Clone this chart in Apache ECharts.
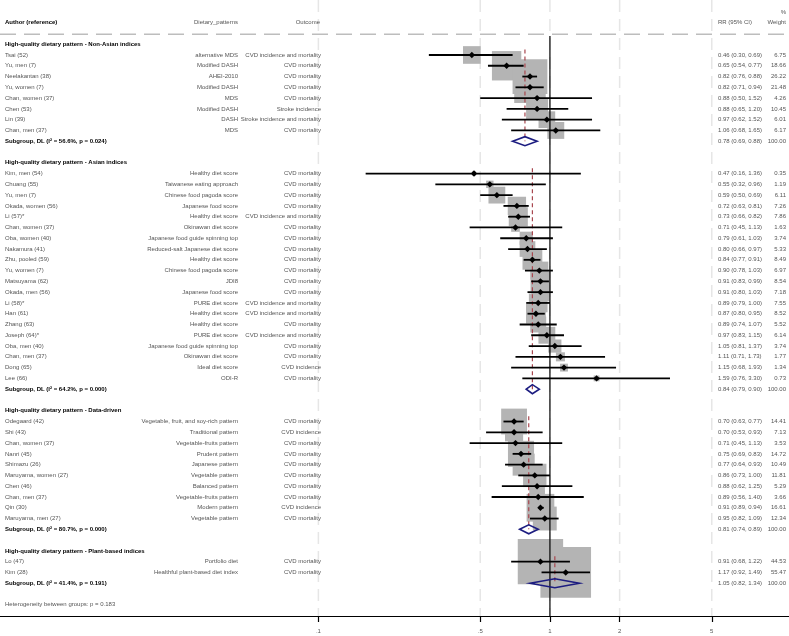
<!DOCTYPE html>
<html>
<head>
<meta charset="utf-8">
<script src="https://cdn.jsdelivr.net/npm/echarts@6/dist/echarts.min.js"></script>
<style>html,body{margin:0;padding:0;background:#fff}#chart{width:789px;height:636px}</style>
</head>
<body>
<div id="chart"></div>
<script>
var groupNames = ['High-quality dietary pattern - Non-Asian indices', 'High-quality dietary pattern - Asian indices',
	'High-quality dietary pattern - Data-driven', 'High-quality dietary pattern - Plant-based indices'];
var groupCounts = [8, 20, 10, 2];

var authors = ['Tsai (52)', 'Yu, men (7)', 'Neelakantan (38)', 'Yu, women (7)', 'Chan, women (37)', 'Chen (53)', 'Lin (39)', 'Chan, men (37)',
	'Kim, men (54)', 'Chuang (55)', 'Yu, men (7)', 'Okada, women (56)', 'Li (57)*', 'Chan, women (37)', 'Oba, women (40)', 'Nakamura (41)',
	'Zhu, pooled (59)', 'Yu, women (7)', 'Matsuyama (62)', 'Okada, men (56)', 'Li (58)*', 'Han (61)', 'Zhang (63)', 'Joseph (64)*',
	'Oba, men (40)', 'Chan, men (37)', 'Dong (65)', 'Lee (66)',
	'Odegaard (42)', 'Shi (43)', 'Chan, women (37)', 'Nanri (45)', 'Shimazu (26)', 'Maruyama, women (27)', 'Chen (46)', 'Chan, men (37)',
	'Qin (30)', 'Maruyama, men (27)',
	'Lo (47)', 'Kim (28)'];
var patterns = ['alternative MDS', 'Modified DASH', 'AHEI-2010', 'Modified DASH', 'MDS', 'Modified DASH', 'DASH', 'MDS',
	'Healthy diet score', 'Taiwanese eating approach', 'Chinese food pagoda score', 'Japanese food score', 'Healthy diet score',
	'Okinawan diet score', 'Japanese food guide spinning top', 'Reduced-salt Japanese diet score', 'Healthy diet score',
	'Chinese food pagoda score', 'JDI8', 'Japanese food score', 'PURE diet score', 'Healthy diet score', 'Healthy diet score',
	'PURE diet score', 'Japanese food guide spinning top', 'Okinawan diet score', 'Ideal diet score', 'ODI-R',
	'Vegetable, fruit, and soy-rich pattern', 'Traditional pattern', 'Vegetable-fruits pattern', 'Prudent pattern', 'Japanese pattern',
	'Vegetable pattern', 'Balanced pattern', 'Vegetable-fruits pattern', 'Modern pattern', 'Vegetable pattern',
	'Portfolio diet', 'Healthful plant-based diet index'];
var outcomes = ['CVD incidence and mortality', 'CVD mortality', 'CVD mortality', 'CVD mortality', 'CVD mortality', 'Stroke incidence',
	'Stroke incidence and mortality', 'CVD mortality',
	'CVD mortality', 'CVD mortality', 'CVD mortality', 'CVD mortality', 'CVD incidence and mortality', 'CVD mortality', 'CVD mortality',
	'CVD mortality', 'CVD mortality', 'CVD mortality', 'CVD mortality', 'CVD mortality', 'CVD incidence and mortality',
	'CVD incidence and mortality', 'CVD mortality', 'CVD incidence and mortality', 'CVD mortality', 'CVD mortality', 'CVD incidence',
	'CVD mortality',
	'CVD mortality', 'CVD incidence', 'CVD mortality', 'CVD mortality', 'CVD mortality', 'CVD mortality', 'CVD mortality',
	'CVD mortality', 'CVD incidence', 'CVD mortality',
	'CVD mortality', 'CVD mortality'];
var rr = [0.46, 0.65, 0.82, 0.82, 0.88, 0.88, 0.97, 1.06,
	0.47, 0.55, 0.59, 0.72, 0.73, 0.71, 0.79, 0.80, 0.84, 0.90, 0.91, 0.91, 0.89, 0.87, 0.89, 0.97, 1.05, 1.11, 1.15, 1.59,
	0.70, 0.70, 0.71, 0.75, 0.77, 0.86, 0.88, 0.89, 0.91, 0.95,
	0.91, 1.17];
var lower = [0.30, 0.54, 0.76, 0.71, 0.50, 0.65, 0.62, 0.68,
	0.16, 0.32, 0.50, 0.63, 0.66, 0.45, 0.61, 0.66, 0.77, 0.78, 0.83, 0.80, 0.79, 0.80, 0.74, 0.83, 0.81, 0.71, 0.68, 0.76,
	0.63, 0.53, 0.45, 0.69, 0.64, 0.73, 0.62, 0.56, 0.89, 0.82,
	0.68, 0.92];
var upper = [0.69, 0.77, 0.88, 0.94, 1.52, 1.20, 1.52, 1.65,
	1.36, 0.96, 0.69, 0.81, 0.82, 1.13, 1.03, 0.97, 0.91, 1.03, 0.99, 1.03, 1.00, 0.95, 1.07, 1.15, 1.37, 1.73, 1.93, 3.30,
	0.77, 0.93, 1.13, 0.83, 0.93, 1.00, 1.25, 1.40, 0.94, 1.09,
	1.22, 1.49];
var weights = [6.75, 18.66, 26.22, 21.48, 4.26, 10.45, 6.01, 6.17,
	0.35, 1.19, 6.11, 7.26, 7.86, 1.63, 3.74, 5.33, 8.49, 6.97, 8.54, 7.18, 7.55, 8.52, 5.52, 6.14, 3.74, 1.77, 1.34, 0.73,
	14.41, 7.13, 3.53, 14.72, 10.49, 11.81, 5.29, 3.66, 16.61, 12.34,
	44.53, 55.47];

var poolRR = [0.78, 0.84, 0.81, 1.05];
var poolLo = [0.69, 0.79, 0.74, 0.82];
var poolHi = [0.88, 0.90, 0.89, 1.34];
var poolI2 = ['56.6%', '64.2%', '80.7%', '41.4%'];
var poolP = ['0.024', '0.000', '0.000', '0.191'];
var hetBetween = '0.183';

var tickValues = [0.1, 0.5, 1, 2, 5];
var tickLabels = ['.1', '.5', '1', '2', '5'];

// layout
var FONT = '"Liberation Sans", Arial, sans-serif';
var FS = 6;
var TXT = '#555';

function ci(a, b, c) {
	return a.toFixed(2) + ' (' + b.toFixed(2) + ', ' + c.toFixed(2) + ')';
}

// build the rows of the table
var rows = [];
var studyData = [], poolData = [], refData = [];
rows.push({ row: -3, kind: 'pct' });
rows.push({ row: -2, kind: 'head' });
var r = 0, k = 0;
groupNames.forEach(function (g, gi) {
	rows.push({ row: r, kind: 'group', text: g });
	var first = r + 1;
	r++;
	for (var j = 0; j < groupCounts[gi]; j++, k++, r++) {
		rows.push({ row: r, kind: 'study', i: k });
		studyData.push([rr[k], r, lower[k], upper[k], weights[k]]);
	}
	rows.push({ row: r, kind: 'pool', g: gi });
	poolData.push([poolRR[gi], r, poolLo[gi], poolHi[gi]]);
	refData.push([poolRR[gi], first, r]);
	r += 2;
});
rows.push({ row: r, kind: 'het' });

function txt(x, y, s, align, bold) {
	return {
		type: 'text', x: x, y: y,
		style: {
			text: s, fill: bold ? '#000' : TXT, fontSize: FS, fontFamily: FONT,
			fontWeight: bold ? 'bold' : 'normal', align: align, verticalAlign: 'middle'
		}
	};
}

var myChart = echarts.init(document.getElementById('chart'));
var option = {
	animation: false,
	grid: { left: 0, right: 0, top: 0, bottom: 20, containLabel: false },
	xAxis: {
		type: 'log', logBase: 10, min: 0.004217, max: 10.776,
		axisLine: { show: true, onZero: false, lineStyle: { color: '#000', width: 1.2 } },
		axisTick: { show: true, customValues: tickValues, length: 6, lineStyle: { color: '#000', width: 1.2 } },
		axisLabel: {
			customValues: tickValues, fontSize: FS, fontFamily: FONT, color: TXT, margin: 12,
			formatter: function (v) {
				var best = 0;
				tickValues.forEach(function (t, i) {
					if (Math.abs(Math.log(t) - Math.log(v)) < Math.abs(Math.log(tickValues[best]) - Math.log(v))) best = i;
				});
				return tickLabels[best];
			}
		},
		splitLine: { show: false }
	},
	yAxis: { type: 'value', inverse: true, min: -4.10, max: 53.04, show: false },
	series: [
		{
			// dashed grid lines and header rule
			type: 'custom', z: 1, silent: true,
			data: tickValues.map(function (v) { return [v]; }),
			renderItem: function (params, api) {
				var cs = params.coordSys;
				var x = api.coord([api.value(0), 0])[0];
				var kids = [{
					type: 'line', shape: { x1: x, y1: cs.y, x2: x, y2: cs.y + cs.height },
					style: { stroke: '#e6e6e6', lineWidth: 1.5, lineDash: [12, 7] }
				}];
				if (params.dataIndex === 0) {
					var hy = api.coord([1, -0.92])[1];
					kids.push({
						type: 'line', shape: { x1: cs.x, y1: hy, x2: cs.x + cs.width, y2: hy },
						style: { stroke: '#bdbdbd', lineWidth: 1.5, lineDash: [16, 8] }
					});
				}
				return { type: 'group', children: kids };
			}
		},
		{
			// weight boxes
			type: 'custom', z: 2, silent: true,
			data: studyData,
			renderItem: function (params, api) {
				var c = api.coord([api.value(0), api.value(1)]);
				var s = 6.8 * Math.sqrt(api.value(4));
				return { type: 'rect', shape: { x: c[0] - s / 2, y: c[1] - s / 2, width: s, height: s }, style: { fill: '#b4b4b4' } };
			}
		},
		{
			// null line
			type: 'custom', z: 3, silent: true,
			data: [[1, -0.76]],
			renderItem: function (params, api) {
				var cs = params.coordSys;
				var c = api.coord([api.value(0), api.value(1)]);
				return { type: 'line', shape: { x1: c[0], y1: c[1], x2: c[0], y2: cs.y + cs.height }, style: { stroke: '#000', lineWidth: 1.2 } };
			}
		},
		{
			// pooled estimate reference lines
			type: 'custom', z: 4, silent: true,
			data: refData,
			renderItem: function (params, api) {
				var a = api.coord([api.value(0), api.value(1) - 0.5]);
				var b = api.coord([api.value(0), api.value(2)]);
				return { type: 'line', shape: { x1: a[0], y1: a[1], x2: b[0], y2: b[1] }, style: { stroke: '#a8474f', lineWidth: 1.2, lineDash: [4, 3] } };
			}
		},
		{
			// confidence intervals and point estimates
			type: 'custom', z: 5, silent: true,
			data: studyData,
			renderItem: function (params, api) {
				var c = api.coord([api.value(0), api.value(1)]);
				var l = api.coord([api.value(2), api.value(1)]);
				var h = api.coord([api.value(3), api.value(1)]);
				var d = 3.2;
				return {
					type: 'group', children: [
						{ type: 'line', shape: { x1: l[0], y1: l[1], x2: h[0], y2: h[1] }, style: { stroke: '#000', lineWidth: 1.8 } },
						{ type: 'polygon', shape: { points: [[c[0] - d, c[1]], [c[0], c[1] - d], [c[0] + d, c[1]], [c[0], c[1] + d]] }, style: { fill: '#000' } }
					]
				};
			}
		},
		{
			// subgroup diamonds
			type: 'custom', z: 6, silent: true,
			data: poolData,
			renderItem: function (params, api) {
				var c = api.coord([api.value(0), api.value(1)]);
				var l = api.coord([api.value(2), api.value(1)]);
				var h = api.coord([api.value(3), api.value(1)]);
				var d = 4.5;
				return {
					type: 'polygon', shape: { points: [[l[0], c[1]], [c[0], c[1] - d], [h[0], c[1]], [c[0], c[1] + d]] },
					style: { fill: 'none', stroke: '#1c1c80', lineWidth: 1.6 }
				};
			}
		},
		{
			// table text
			type: 'custom', z: 7, silent: true,
			data: rows.map(function (o) { return [1, o.row]; }),
			renderItem: function (params, api) {
				var o = rows[params.dataIndex];
				var y = api.coord([1, api.value(1)])[1];
				var kids = [];
				if (o.kind === 'pct') {
					kids.push(txt(786, y, '%', 'right'));
				} else if (o.kind === 'head') {
					kids.push(txt(5, y, 'Author (reference)', 'left', true));
					kids.push(txt(238, y, 'Dietary_patterns', 'right'));
					kids.push(txt(320, y, 'Outcome', 'right'));
					kids.push(txt(718, y, 'RR (95% CI)', 'left'));
					kids.push(txt(786, y, 'Weight', 'right'));
				} else if (o.kind === 'group') {
					kids.push(txt(5, y, o.text, 'left', true));
				} else if (o.kind === 'study') {
					var i = o.i;
					kids.push(txt(5, y, authors[i], 'left'));
					kids.push(txt(238, y, patterns[i], 'right'));
					kids.push(txt(321, y, outcomes[i], 'right'));
					kids.push(txt(718, y, ci(rr[i], lower[i], upper[i]), 'left'));
					kids.push(txt(786, y, weights[i].toFixed(2), 'right'));
				} else if (o.kind === 'pool') {
					var g = o.g;
					kids.push(txt(5, y, 'Subgroup, DL (I\u00b2 = ' + poolI2[g] + ', p = ' + poolP[g] + ')', 'left', true));
					kids.push(txt(718, y, ci(poolRR[g], poolLo[g], poolHi[g]), 'left'));
					kids.push(txt(786, y, '100.00', 'right'));
				} else if (o.kind === 'het') {
					kids.push(txt(5, y, 'Heterogeneity between groups: p = ' + hetBetween, 'left'));
				}
				return { type: 'group', children: kids };
			}
		}
	]
};
myChart.setOption(option);
</script>
</body>
</html>
